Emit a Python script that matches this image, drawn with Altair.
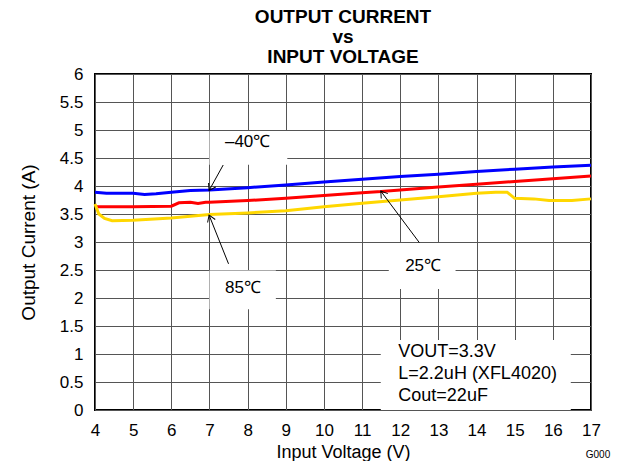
import math
import altair as alt
import pandas as pd

FONT = "Liberation Sans"

# ---- data ----
v_m40 = [4.0, 4.3, 5.0, 5.3, 5.6, 6.0, 6.5, 7.0, 8.0, 9.0, 10.0, 11.0, 12.0, 13.0, 14.0, 15.0, 16.0, 17.0]
i_m40 = [3.89, 3.87, 3.87, 3.85, 3.86, 3.89, 3.92, 3.93, 3.97, 4.02, 4.07, 4.12, 4.17, 4.21, 4.26, 4.30, 4.34, 4.37]

v_25 = [4.0, 5.0, 6.0, 6.2, 6.5, 6.7, 6.9, 7.0, 8.0, 9.0, 10.0, 11.0, 11.5, 12.0, 13.0, 14.0, 15.0, 16.0, 17.0]
i_25 = [3.63, 3.63, 3.64, 3.70, 3.71, 3.69, 3.71, 3.71, 3.74, 3.78, 3.83, 3.88, 3.90, 3.93, 3.98, 4.03, 4.08, 4.13, 4.18]

v_85 = [4.0, 4.1, 4.25, 4.45, 5.0, 6.0, 7.0, 8.0, 9.0, 10.0, 11.0, 12.0, 13.0, 14.0, 14.5, 14.8, 15.0, 15.5, 15.9, 16.5, 17.0]
i_85 = [3.68, 3.50, 3.42, 3.38, 3.39, 3.43, 3.49, 3.52, 3.56, 3.63, 3.69, 3.75, 3.81, 3.87, 3.89, 3.89, 3.78, 3.77, 3.74, 3.74, 3.77]

series_names = ["-40", "25", "85"]
series_colors = ["#0000FF", "#FF0000", "#FFD700"]

x_ticks = list(range(4, 18))
y_ticks = [0, 0.5, 1, 1.5, 2, 2.5, 3, 3.5, 4, 4.5, 5, 5.5, 6]

# annotation labels: text, text centre, white box, arrow from (x1,y1) to (x2,y2)
ann_text = ["\u201340\u2103", "85\u2103", "25\u2103"]
ann_tx = [8.0, 7.88, 12.6]
ann_ty = [4.78, 2.17, 2.58]
box_x1 = [7.0, 7.0, 11.7]
box_x2 = [9.04, 8.74, 13.45]
box_y1 = [4.38, 1.80, 2.16]
box_y2 = [4.98, 2.49, 2.98]
arr_x1 = [7.36, 7.50, 12.50]
arr_y1 = [4.375, 2.61, 2.99]
arr_x2 = [6.99, 6.99, 11.49]
arr_y2 = [3.92, 3.48, 3.91]

info_lines = ["VOUT=3.3V", "L=2.2uH (XFL4020)", "Cout=22uF"]
info_x = 11.95
info_y = [1.03, 0.64, 0.245]
info_box = (11.49, 16.47, 0.0, 1.25)

W, H = 496, 336
XD, YD = (4, 17), (0, 6)

# ---- tables ----
rows = []
for name, vs, cs in [("-40", v_m40, i_m40), ("25", v_25, i_25), ("85", v_85, i_85)]:
    for v, c in zip(vs, cs):
        rows.append({"series": name, "v": v, "i": c})
curves = pd.DataFrame(rows)

sx = W / (XD[1] - XD[0])
sy = H / (YD[1] - YD[0])
angles = []
for a, b, c, d in zip(arr_x1, arr_y1, arr_x2, arr_y2):
    dx = (c - a) * sx
    dy = -(d - b) * sy
    angles.append(math.degrees(math.atan2(dy, dx)) % 360)

ann = pd.DataFrame({
    "text": ann_text, "tx": ann_tx, "ty": ann_ty,
    "bx1": box_x1, "bx2": box_x2, "by1": box_y1, "by2": box_y2,
    "ax1": arr_x1, "ay1": arr_y1, "ax2": arr_x2, "ay2": arr_y2,
    "angle": angles,
})
info = pd.DataFrame({"text": info_lines, "x": [info_x] * 3, "y": info_y})
ibox = pd.DataFrame({"x1": [info_box[0]], "x2": [info_box[1]], "y1": [info_box[2]], "y2": [info_box[3]]})

xs = alt.Scale(domain=list(XD), nice=False, zero=False)
ys = alt.Scale(domain=list(YD), nice=False, zero=False)

xaxis = alt.Axis(values=x_ticks, format="~g", title="Input Voltage (V)", labelPadding=12,
                 titlePadding=5, titleFontSize=18)
yaxis = alt.Axis(values=y_ticks, format="~g", title="Output Current (A)", labelPadding=12,
                 titlePadding=21, titleFontSize=19)


def X(field):
    return alt.X(field, type="quantitative", scale=xs, axis=xaxis)


def Y(field):
    return alt.Y(field, type="quantitative", scale=ys, axis=yaxis)


boxes = alt.Chart(ann).mark_rect(color="white").encode(
    x=X("bx1"), x2="bx2:Q", y=Y("by1"), y2="by2:Q",
)
infobox = alt.Chart(ibox).mark_rect(color="white").encode(
    x=X("x1"), x2="x2:Q", y=Y("y1"), y2="y2:Q",
)

lines = alt.Chart(curves).mark_line(strokeWidth=3).encode(
    x=X("v"), y=Y("i"),
    color=alt.Color("series:N", scale=alt.Scale(domain=series_names, range=series_colors), legend=None),
    order="v:Q",
)

shafts = alt.Chart(ann).mark_rule(color="black", strokeWidth=1).encode(
    x=X("ax1"), y=Y("ay1"), x2="ax2:Q", y2="ay2:Q",
)
heads = alt.Chart(ann).mark_point(
    shape="M-1,-0.65L0,0L-1,0.65", filled=False, color="black", strokeWidth=1, size=160, opacity=1
).encode(
    x=X("ax2"), y=Y("ay2"),
    angle=alt.Angle("angle:Q", scale=None),
)

labels = alt.Chart(ann).mark_text(font=FONT, fontSize=17, color="black", baseline="middle").encode(
    x=X("tx"), y=Y("ty"), text="text:N",
)

info_txt = alt.Chart(info).mark_text(font=FONT, fontSize=18, color="black", align="left",
                                     baseline="middle").encode(
    x=X("x"), y=Y("y"), text="text:N",
)

g000 = alt.Chart(pd.DataFrame({"t": ["G000"]})).mark_text(
    font=FONT, fontSize=10, color="black", align="center", baseline="middle"
).encode(x=alt.value(503), y=alt.value(381), text="t:N")

chart = alt.layer(
    boxes, infobox, lines, shafts, heads, labels, info_txt, g000
).properties(
    width=W, height=H,
    background="white",
    autosize=alt.AutoSizeParams(type="none"),
    padding={"left": 87, "top": 66, "right": 20, "bottom": 51},
    title=alt.TitleParams(
        text=["OUTPUT CURRENT", "vs", "INPUT VOLTAGE"],
        font=FONT, fontSize=19, fontWeight="bold", lineHeight=20,
        anchor="middle", offset=-2, color="black",
    ),
).configure_view(
    stroke="black", strokeWidth=2,
).configure_axis(
    grid=True, gridColor="#555555", gridWidth=1, gridOpacity=1,
    ticks=False, domain=False,
    labelFontSize=17, labelFont=FONT, labelColor="black",
    labelFlush=False, labelOverlap=False,
    titleFont=FONT, titleFontWeight="normal", titleColor="black",
)

chart.save("out.html", embed_options={"renderer": "svg", "actions": False})
